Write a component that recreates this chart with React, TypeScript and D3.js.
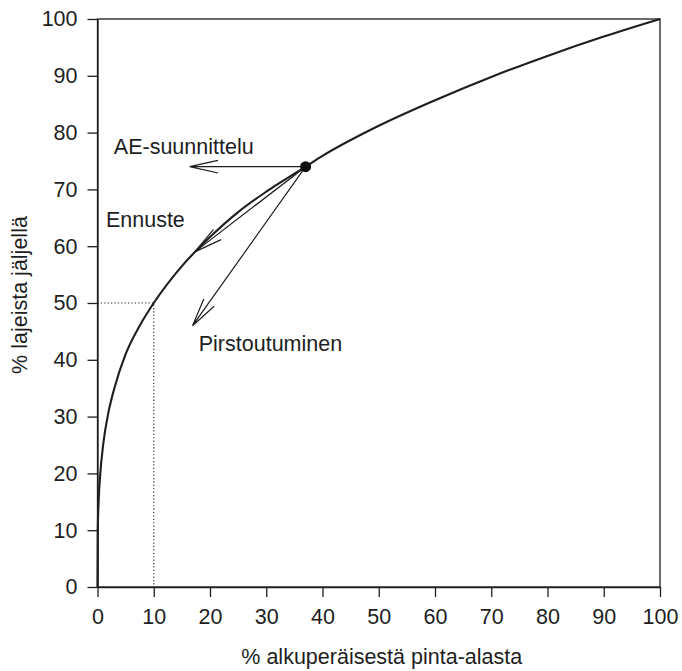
import React, { useEffect, useRef } from "react";
import * as d3 from "d3";

// species-area curve
const areaPct = [0, 0.05, 0.2, 0.5, 1, 2, 3, 5, 7.5, 10, 15, 20, 25, 30, 37, 40, 50, 60, 70, 80, 90, 100];
const speciesPct = [0, 10, 15, 20, 25, 31, 35, 41, 46, 50, 56.5, 61.6, 66, 69.6, 74, 75.9, 81.2, 85.7, 89.8, 93.5, 96.9, 100];
const xTicks = [0, 10, 20, 30, 40, 50, 60, 70, 80, 90, 100];
const yTicks = [0, 10, 20, 30, 40, 50, 60, 70, 80, 90, 100];
const startPoint = { x: 37, y: 74 };
const arrowEnds = [
  { name: "AE-suunnittelu", x: 16.4, y: 74 },
  { name: "Ennuste", x: 17.3, y: 59 },
  { name: "Pirstoutuminen", x: 16.9, y: 46 },
];
const labels = [
  { text: "AE-suunnittelu", x: 2.9, y: 76.2 },
  { text: "Ennuste", x: 1.5, y: 63.4 },
  { text: "Pirstoutuminen", x: 18, y: 41.6 },
];
const refPoint = { x: 10, y: 50 };

const W = 682;
const H = 671;
const FONT = "'Liberation Sans', Arial, Helvetica, sans-serif";
const FS = "21.5px";
const INK = "#1e1e1e";

export default function App() {
  const ref = useRef<SVGSVGElement>(null);

  useEffect(() => {
    const svg = d3.select(ref.current);
    svg.selectAll("*").remove();

    const x = d3.scaleLinear().domain([0, 100]).range([97.5, 660]);
    const y = d3.scaleLinear().domain([0, 100]).range([587, 19]);

    const g = svg.append("g");

    // frame (top + right)
    g.append("rect")
      .attr("x", x(0)).attr("y", y(100))
      .attr("width", x(100) - x(0)).attr("height", y(0) - y(100))
      .attr("fill", "none").attr("stroke", INK).attr("stroke-width", 1.3);

    const xAxis = g.append("g")
      .attr("transform", `translate(0,${y(0)})`)
      .call(d3.axisBottom(x).tickValues(xTicks).tickSize(10).tickPadding(12).tickSizeOuter(0));
    const yAxis = g.append("g")
      .attr("transform", `translate(${x(0)},0)`)
      .call(d3.axisLeft(y).tickValues(yTicks).tickSize(10).tickPadding(10).tickSizeOuter(0));

    [xAxis, yAxis].forEach(a => {
      a.select(".domain").attr("stroke", INK).attr("stroke-width", 1.3);
      a.selectAll(".tick line").attr("stroke", INK).attr("stroke-width", 1.3);
      a.selectAll(".tick text").attr("fill", INK).style("font-family", FONT).style("font-size", FS);
    });

    // dotted reference lines at 10 % area / 50 % species
    g.append("path")
      .attr("d", `M${x(0)},${y(refPoint.y)}H${x(refPoint.x)}V${y(0)}`)
      .attr("fill", "none").attr("stroke", INK).attr("stroke-width", 1.1)
      .attr("stroke-dasharray", "1.2,2.2");

    // curve
    const data = areaPct.map((a, i) => ({ x: a, y: speciesPct[i] }));
    const line = d3.line<{ x: number; y: number }>()
      .x(d => x(d.x)).y(d => y(d.y))
      .curve(d3.curveMonotoneX);
    g.append("path").datum(data)
      .attr("fill", "none").attr("stroke", INK).attr("stroke-width", 2.1)
      .attr("d", line);

    // arrows with open heads
    const sx = x(startPoint.x), sy = y(startPoint.y);
    arrowEnds.forEach(e => {
      const ex = x(e.x), ey = y(e.y);
      const ang = Math.atan2(sy - ey, sx - ex);
      const len = 29, spread = 0.22;
      const w1 = [ex + len * Math.cos(ang + spread), ey + len * Math.sin(ang + spread)];
      const w2 = [ex + len * Math.cos(ang - spread), ey + len * Math.sin(ang - spread)];
      g.append("path")
        .attr("d", `M${sx},${sy}L${ex},${ey}M${w1[0]},${w1[1]}L${ex},${ey}L${w2[0]},${w2[1]}`)
        .attr("fill", "none").attr("stroke", INK).attr("stroke-width", 1.2);
    });

    g.append("circle").attr("cx", sx).attr("cy", sy).attr("r", 5.5).attr("fill", "#111");

    labels.forEach(l => {
      g.append("text").attr("x", x(l.x)).attr("y", y(l.y))
        .attr("fill", INK).style("font-family", FONT).style("font-size", FS)
        .text(l.text);
    });

    // axis titles
    g.append("text")
      .attr("x", (x(0) + x(100)) / 2 + 3).attr("y", 664)
      .attr("text-anchor", "middle").attr("fill", INK)
      .style("font-family", FONT).style("font-size", FS)
      .text("% alkuperäisestä pinta-alasta");
    g.append("text")
      .attr("transform", `translate(27,${(y(0) + y(100)) / 2 - 8}) rotate(-90)`)
      .attr("text-anchor", "middle").attr("fill", INK)
      .style("font-family", FONT).style("font-size", FS)
      .text("% lajeista jäljellä");
  }, []);

  return (
    <svg ref={ref} width={W} height={H}
      style={{ position: "absolute", left: 0, top: 0, background: "#fff" }} />
  );
}
